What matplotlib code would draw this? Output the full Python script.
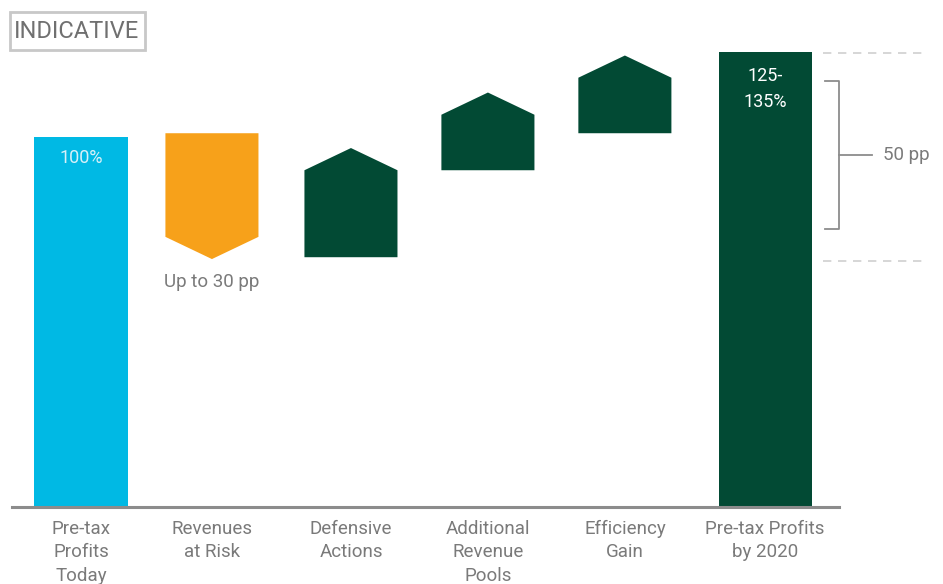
import matplotlib.pyplot as plt
from matplotlib.patches import Polygon, Rectangle

plt.rcParams['font.family'] = ['Liberation Sans Narrow', 'Roboto', 'DejaVu Sans']

# data (share of today's pre-tax profits, %)
labels = ["Pre-tax\nProfits\nToday", "Revenues\nat Risk", "Defensive\nActions",
          "Additional\nRevenue\nPools", "Efficiency\nGain", "Pre-tax Profits\nby 2020"]
kind = ["total", "down", "up", "up", "up", "total"]
base = [0, 101, 67.5, 91, 101, 0]    # where the bar / arrow starts
tip = [100, 67, 97, 112, 122, 123]   # where the bar / arrow ends
range_lo, range_hi = 66.5, 122.7     # dashed range lines
bracket_lo, bracket_hi = 75, 115

c_cyan = '#00B9E4'
c_orange = '#F7A11A'
c_green = '#024A34'
c_gray = '#7a7a7a'

# slot positions (slightly uneven, like the source slide)
x = [0, 0.957, 1.973, 2.974, 3.975, 5.0]
w = 0.68
head = 6  # arrow head height in data units

fig = plt.figure(figsize=(9.43, 5.84), dpi=100)
ax = fig.add_axes([0, 0, 1, 1])
ax.set_xlim(-0.592, 6.30)
ax.set_ylim(-20.8, 137.0)
ax.axis('off')

for i, k in enumerate(kind):
    if k == "total":
        col = c_cyan if i == 0 else c_green
        ax.bar(x[i], tip[i] - base[i], bottom=base[i], width=w, color=col, zorder=2)
    else:
        col = c_orange if k == "down" else c_green
        sgn = 1 if tip[i] > base[i] else -1
        sh = tip[i] - sgn * head
        pts = [(x[i] - w / 2, base[i]), (x[i] + w / 2, base[i]), (x[i] + w / 2, sh),
               (x[i], tip[i]), (x[i] - w / 2, sh)]
        ax.add_patch(Polygon(pts, closed=True, color=col, lw=0, zorder=2))

# baseline
ax.axhline(0, xmin=0.013, xmax=0.89, color='#8c8c8c', lw=2.2, zorder=3)

# category labels
for i, lab in enumerate(labels):
    ax.text(x[i], -3.4, lab, ha='center', va='top', fontsize=13.5, color=c_gray,
            linespacing=1.4)

ax.text(x[0], 94.3, "100%", ha='center', va='center', fontsize=13, color='#d8f0f8')
ax.text(x[5], 113.0, "125-\n135%", ha='center', va='center', fontsize=13,
        color='white', linespacing=1.55)
ax.text(x[1], 60.8, "Up to 30 pp", ha='center', va='center', fontsize=13.5, color=c_gray)

# range markers on the right
xr0, xr1 = 5.42, 6.18
for yv in (range_lo, range_hi):
    ax.plot([xr0, xr1], [yv, yv], color='#cfcfcf', lw=1.2, ls=(0, (5, 4)))
xb = 5.54
ax.plot([xr0 + 0.02, xb, xb, xr0 + 0.02], [bracket_hi, bracket_hi, bracket_lo, bracket_lo],
        color='#8c8c8c', lw=1.3)
mid = (bracket_lo + bracket_hi) / 2
ax.plot([xb, xb + 0.24], [mid, mid], color='#8c8c8c', lw=1.3)
ax.text(xb + 0.32, mid, "50 pp", ha='left', va='center', fontsize=13.5, color=c_gray)

# INDICATIVE tag
fig.patches.append(Rectangle((10 / 943, 1 - 50 / 584), 135 / 943, 38 / 584,
                             transform=fig.transFigure, fill=False,
                             edgecolor='#c8c8c8', lw=2))
fig.text(77 / 943, 1 - 31.5 / 584, "INDICATIVE", ha='center', va='center',
         fontsize=17, color='#707070')

fig.savefig('out.png', dpi=100)
